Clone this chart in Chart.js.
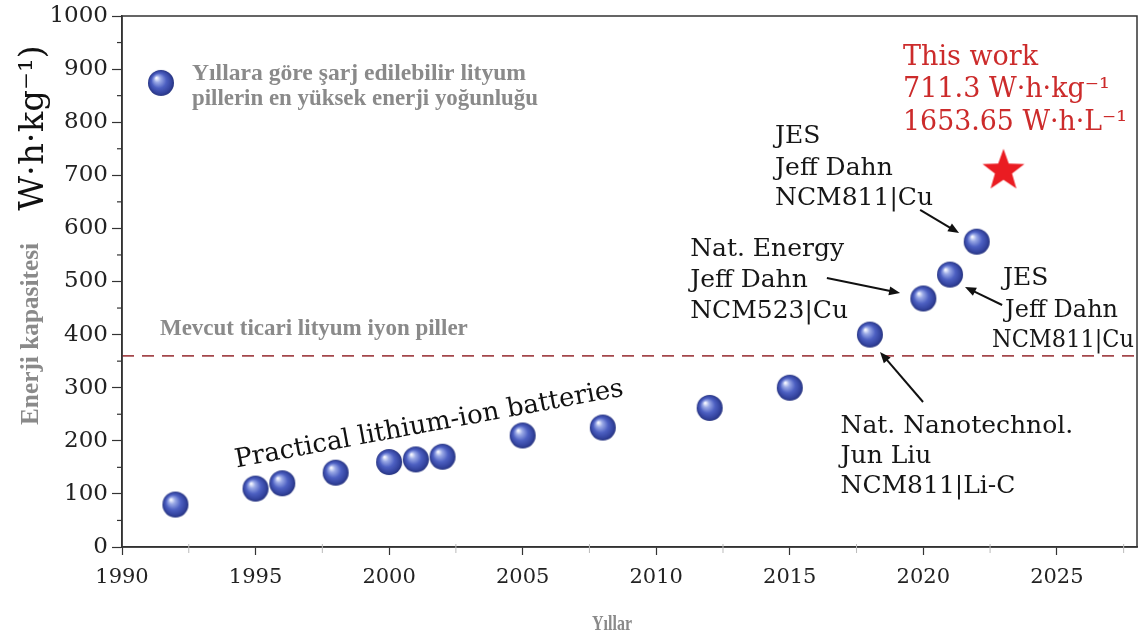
<!DOCTYPE html>
<html>
<head>
<meta charset="utf-8">
<script src="https://cdn.jsdelivr.net/npm/chart.js@4/dist/chart.umd.min.js"></script>
<style>
  html, body { margin: 0; padding: 0; background: #ffffff; }
  #wrap { width: 1144px; height: 639px; }
</style>
</head>
<body>
<div id="wrap"><canvas id="c" width="1144" height="639"></canvas></div>
<script>
// ---------------- data ----------------
const years = [1992, 1995, 1996, 1998, 2000, 2001, 2002, 2005, 2008, 2012, 2015, 2018, 2020, 2021, 2022];
const energy = [80, 110, 120, 140, 160, 165, 170, 210, 225, 262, 300, 400, 468, 513, 575];
const thisWorkYear = [2023];
const thisWorkEnergy = [711.3];
const commercialLevel = 360;
const xRange = [1990, 2028];
const yRange = [0, 1000];
const xMajorStep = 5, xMinorStep = 2.5;
const yMajorStep = 100, yMinorStep = 50;

// annotation texts (anchored in data units)
const legendText = ["Yıllara göre şarj edilebilir lityum", "pillerin en yüksek enerji yoğunluğu"];
const commercialText = "Mevcut ticari lityum iyon piller";
const practicalText = "Practical lithium-ion batteries";
const thisWorkText = ["This work", "711.3 W·h·kg⁻¹", "1653.65 W·h·L⁻¹"];
const jesTopText = ["JES", "Jeff Dahn", "NCM811|Cu"];
const natEnergyText = ["Nat. Energy", "Jeff Dahn", "NCM523|Cu"];
const jesRightText = ["JES", "Jeff Dahn", "NCM811|Cu"];
const nanoText = ["Nat. Nanotechnol.", "Jun Liu", "NCM811|Li-C"];
const xTitle = "Yıllar";
const yTitleA = "Enerji kapasitesi";
const yTitleB = "W·h·kg⁻¹)";

// ---------------- point images ----------------
function makeSphere(r) {
  const s = 2 * r + 2;
  const c = document.createElement('canvas');
  c.width = s; c.height = s;
  const g = c.getContext('2d');
  const cx = s / 2, cy = s / 2;
  const grad = g.createRadialGradient(cx - r * 0.35, cy - r * 0.38, r * 0.05, cx, cy, r);
  grad.addColorStop(0, '#f4f6ff');
  grad.addColorStop(0.22, '#9aa9e6');
  grad.addColorStop(0.55, '#4d60c2');
  grad.addColorStop(0.85, '#34449f');
  grad.addColorStop(1, '#26337f');
  g.fillStyle = grad;
  g.beginPath(); g.arc(cx, cy, r, 0, Math.PI * 2); g.fill();
  return c;
}
function makeStar(R, rIn, color) {
  const s = 2 * R + 4;
  const c = document.createElement('canvas');
  c.width = s; c.height = s;
  const g = c.getContext('2d');
  const cx = s / 2, cy = s / 2 + 1.5;
  g.beginPath();
  for (let i = 0; i < 10; i++) {
    const rr = i % 2 === 0 ? R : rIn;
    const a = -Math.PI / 2 + i * Math.PI / 5;
    const px = cx + rr * Math.cos(a), py = cy + rr * Math.sin(a);
    if (i === 0) g.moveTo(px, py); else g.lineTo(px, py);
  }
  g.closePath();
  g.fillStyle = color; g.fill();
  return c;
}
const sphereImg = makeSphere(13);
const starImg = makeStar(22, 9, '#ea1c22');

// ---------------- helpers ----------------
const SERIF = '"DejaVu Serif", serif';
const TIMES = '"Liberation Serif", serif';

function textBlock(ctx, chart, lines, xs, ys, font, color, maxW) {
  const sx = chart.scales.x, sy = chart.scales.y;
  ctx.save();
  ctx.font = font; ctx.fillStyle = color;
  ctx.textAlign = 'left'; ctx.textBaseline = 'alphabetic';
  lines.forEach((t, i) => {
    const x = Array.isArray(xs) ? xs[i] : xs;
    const px = sx.getPixelForValue(x), py = sy.getPixelForValue(ys[i]);
    if (maxW && maxW[i]) ctx.fillText(t, px, py, maxW[i]); else ctx.fillText(t, px, py);
  });
  ctx.restore();
}
function arrow(ctx, chart, x1, y1, x2, y2) {
  const sx = chart.scales.x, sy = chart.scales.y;
  const a = sx.getPixelForValue(x1), b = sy.getPixelForValue(y1);
  const c = sx.getPixelForValue(x2), d = sy.getPixelForValue(y2);
  const ang = Math.atan2(d - b, c - a);
  const hl = 11, hw = 4.5;
  ctx.save();
  ctx.strokeStyle = '#111'; ctx.fillStyle = '#111'; ctx.lineWidth = 2;
  ctx.beginPath(); ctx.moveTo(a, b);
  ctx.lineTo(c - hl * 0.8 * Math.cos(ang), d - hl * 0.8 * Math.sin(ang)); ctx.stroke();
  ctx.beginPath();
  ctx.moveTo(c, d);
  ctx.lineTo(c - hl * Math.cos(ang) + hw * Math.sin(ang), d - hl * Math.sin(ang) - hw * Math.cos(ang));
  ctx.lineTo(c - hl * Math.cos(ang) - hw * Math.sin(ang), d - hl * Math.sin(ang) + hw * Math.cos(ang));
  ctx.closePath(); ctx.fill();
  ctx.restore();
}

const decor = {
  id: 'decor',
  afterDraw(chart) {
    const ctx = chart.ctx, area = chart.chartArea;
    const sx = chart.scales.x, sy = chart.scales.y;
    // frame
    ctx.save();
    ctx.strokeStyle = '#333'; ctx.lineWidth = 1.5;
    ctx.strokeRect(area.left, area.top, area.right - area.left, area.bottom - area.top);
    // minor y ticks
    ctx.lineWidth = 1.2; ctx.strokeStyle = '#333';
    for (let v = yRange[0] + yMinorStep; v < yRange[1]; v += yMajorStep) {
      const p = sy.getPixelForValue(v);
      ctx.beginPath(); ctx.moveTo(area.left - 5, p); ctx.lineTo(area.left, p); ctx.stroke();
    }
    // minor x ticks
    ctx.strokeStyle = '#bbb'; ctx.lineWidth = 1;
    for (let v = xRange[0] + xMinorStep; v < xRange[1]; v += xMajorStep) {
      const p = sx.getPixelForValue(v);
      ctx.beginPath(); ctx.moveTo(p, area.bottom - 3); ctx.lineTo(p, area.bottom + 6); ctx.stroke();
    }
    ctx.restore();

    // axis titles
    ctx.save();
    ctx.fillStyle = '#8a8a8a';
    ctx.font = 'bold 22px ' + TIMES;
    ctx.textAlign = 'center'; ctx.textBaseline = 'alphabetic';
    ctx.fillText(xTitle, 612, 630, 40);
    ctx.translate(38, 334); ctx.rotate(-Math.PI / 2);
    ctx.font = 'bold 26px ' + TIMES;
    ctx.fillText(yTitleA, 0, 0, 182);
    ctx.restore();
    ctx.save();
    ctx.fillStyle = '#111';
    ctx.translate(43, 128); ctx.rotate(-Math.PI / 2);
    ctx.font = '34px ' + SERIF;
    ctx.textAlign = 'center';
    ctx.fillText(yTitleB, 0, 0, 176);
    ctx.restore();

    // legend
    ctx.drawImage(sphereImg, sx.getPixelForValue(1991.46) - sphereImg.width / 2, sy.getPixelForValue(874) - sphereImg.height / 2);
    ctx.save();
    ctx.font = 'bold 24px ' + TIMES; ctx.fillStyle = '#8a8a8a';
    ctx.fillText(legendText[0], sx.getPixelForValue(1992.62), sy.getPixelForValue(879.5), 334);
    ctx.fillText(legendText[1], sx.getPixelForValue(1992.62), sy.getPixelForValue(832.4), 346);
    // commercial label
    ctx.font = 'bold 23px ' + TIMES;
    ctx.fillText(commercialText, sx.getPixelForValue(1991.42), sy.getPixelForValue(399), 312);
    ctx.restore();

    // practical label (rotated)
    ctx.save();
    ctx.font = '26px ' + SERIF; ctx.fillStyle = '#111';
    ctx.textAlign = 'center'; ctx.textBaseline = 'middle';
    ctx.translate(sx.getPixelForValue(2001.5), sy.getPixelForValue(230));
    ctx.rotate(-10.5 * Math.PI / 180);
    ctx.fillText(practicalText, 0, 0, 420);
    ctx.restore();

    // this work
    textBlock(ctx, chart, thisWorkText, 2019.24, [907.7, 847.5, 785.3], '27px ' + SERIF, '#cc2b2b', [0, 0, 224]);
    // other blocks
    const bf = '25px ' + SERIF, bc = '#161616';
    textBlock(ctx, chart, jesTopText, 2014.45, [760, 700, 643.5], bf, bc);
    textBlock(ctx, chart, natEnergyText, 2011.27, [548, 489.6, 431.3], bf, bc);
    textBlock(ctx, chart, jesRightText, [2022.98, 2023.06, 2022.57], [493.4, 433.1, 376.6], bf, bc, [0, 113, 142]);
    textBlock(ctx, chart, nanoText, 2016.9, [214.7, 158.2, 101.7], bf, bc);

    // arrows
    arrow(ctx, chart, 2019.88, 634.7, 2021.34, 591.3);
    arrow(ctx, chart, 2016.39, 506.6, 2019.13, 478.3);
    arrow(ctx, chart, 2022.95, 455.7, 2021.56, 489.6);
    arrow(ctx, chart, 2019.99, 273.1, 2018.38, 367.2);
  }
};

function zeroPad(s) { s.paddingLeft = 0; s.paddingRight = 0; s.paddingTop = 0; s.paddingBottom = 0; }

new Chart(document.getElementById('c'), {
  type: 'scatter',
  data: {
    datasets: [
      {
        label: 'energy',
        data: years.map((y, i) => ({ x: y, y: energy[i] })),
        pointStyle: sphereImg,
        pointRadius: 13,
        pointHoverRadius: 13,
        order: 1
      },
      {
        label: 'this work',
        data: thisWorkYear.map((y, i) => ({ x: y, y: thisWorkEnergy[i] })),
        pointStyle: starImg,
        pointRadius: 22,
        order: 2
      },
      {
        type: 'line',
        label: 'commercial',
        data: [{ x: xRange[0], y: commercialLevel }, { x: xRange[1], y: commercialLevel }],
        borderColor: '#a4474b',
        borderWidth: 1.6,
        borderDash: [12, 8],
        pointRadius: 0,
        fill: false,
        order: 3
      }
    ]
  },
  options: {
    responsive: false,
    animation: false,
    devicePixelRatio: 1,
    layout: { autoPadding: false, padding: { top: 16, right: 7, left: 0, bottom: 0 } },
    plugins: { legend: { display: false }, tooltip: { enabled: false } },
    scales: {
      x: {
        type: 'linear',
        min: xRange[0], max: xRange[1],
        afterFit(s) { s.height = 92; zeroPad(s); },
        border: { display: true, color: '#333', width: 1.5 },
        grid: { drawOnChartArea: false, tickLength: 8, color: '#333', tickWidth: 1.2 },
        ticks: {
          stepSize: xMajorStep, includeBounds: false, padding: 10,
          color: '#222', font: { family: 'DejaVu Serif', size: 21 },
          maxRotation: 0,
          callback: (v) => String(v)
        }
      },
      y: {
        type: 'linear',
        min: yRange[0], max: yRange[1],
        afterFit(s) { s.width = 122; zeroPad(s); },
        border: { display: true, color: '#333', width: 1.5 },
        grid: { drawOnChartArea: false, tickLength: 10, color: '#333', tickWidth: 1.2 },
        ticks: {
          stepSize: yMajorStep, padding: 4,
          color: '#222', font: { family: 'DejaVu Serif', size: 23 },
          callback: (v) => String(v)
        }
      }
    }
  },
  plugins: [decor]
});
</script>
</body>
</html>
